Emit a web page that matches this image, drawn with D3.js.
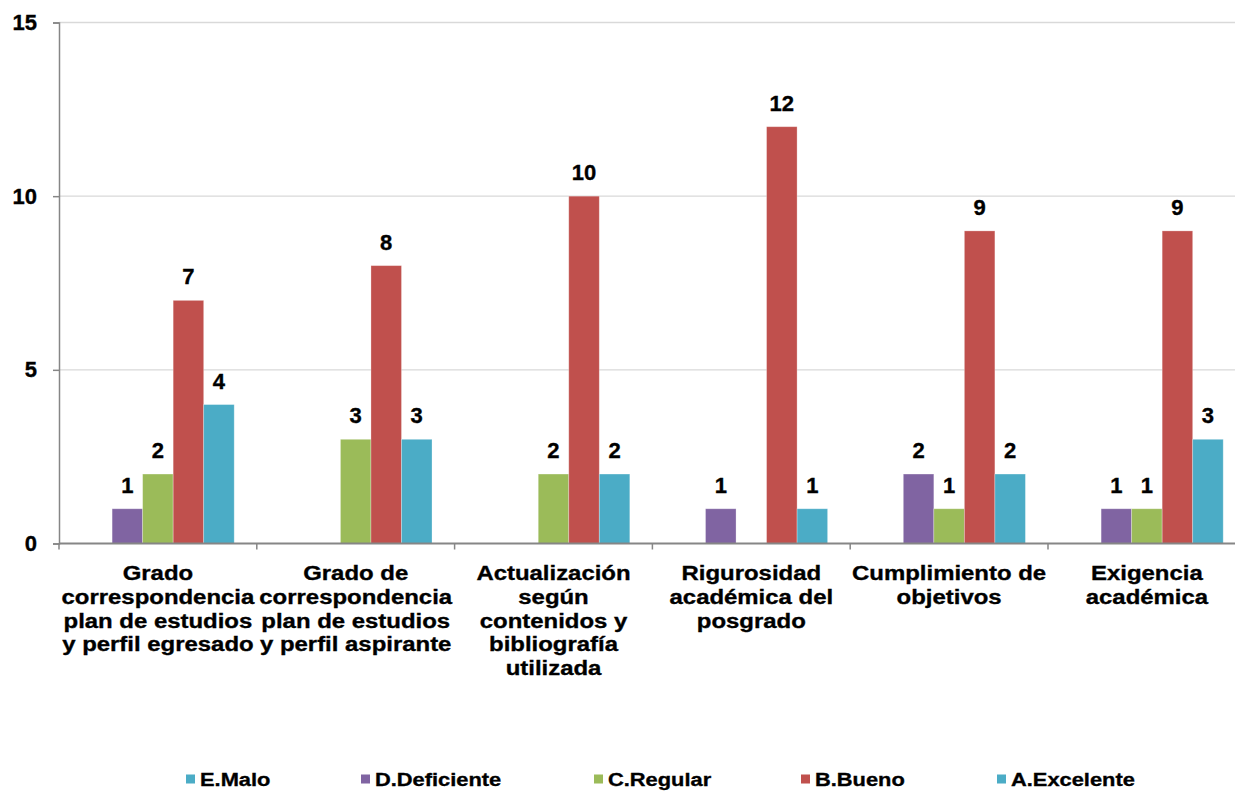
<!DOCTYPE html>
<html>
<head>
<meta charset="utf-8">
<script src="https://cdn.jsdelivr.net/npm/d3@7"></script>
<style>
  body { margin: 0; background: #fff; }
  text { font-family: "Liberation Sans", Arial, sans-serif; font-weight: bold; stroke: #000; stroke-width: 0.35; }
</style>
</head>
<body>
<script>

// data
var categories = [
    ["Grado", "correspondencia", "plan de estudios", "y perfil egresado"],
    ["Grado de", "correspondencia", "plan de estudios", "y perfil aspirante"],
    ["Actualización", "según", "contenidos y", "bibliografía", "utilizada"],
    ["Rigurosidad", "académica del", "posgrado"],
    ["Cumplimiento de", "objetivos"],
    ["Exigencia", "académica"]
];
var seriesNames = ["E.Malo", "D.Deficiente", "C.Regular", "B.Bueno", "A.Excelente"];
var seriesColors = ["#4BACC6", "#8064A2", "#9BBB59", "#C0504D", "#4BACC6"];
var malo       = [0, 0, 0, 0, 0, 0];
var deficiente = [1, 0, 0, 1, 2, 1];
var regular    = [2, 3, 2, 0, 1, 1];
var bueno      = [7, 8, 10, 12, 9, 9];
var excelente  = [4, 3, 2, 1, 2, 3];
var yTicks = [0, 5, 10, 15];

var values = [malo, deficiente, regular, bueno, excelente];

var svg = d3.select('body').append('svg')
    .attr('width', 1235)
    .attr('height', 791);

var plotLeft = 59, plotTop = 22.5, plotBottom = 543.5;
var groupW = 197.8;

var x0 = d3.scaleBand()
    .domain(d3.range(categories.length))
    .range([plotLeft, plotLeft + groupW * categories.length])
    .paddingInner(0)
    .paddingOuter(0);

var x1 = d3.scaleBand()
    .domain(d3.range(seriesNames.length))
    .range([0, groupW])
    .paddingInner(0)
    .paddingOuter(0.74);

var y = d3.scaleLinear()
    .domain([0, 15])
    .range([plotBottom, plotTop]);

// gridlines
svg.append('g').selectAll('line')
    .data(yTicks.filter(d => d > 0))
    .enter().append('line')
    .attr('x1', plotLeft).attr('x2', 1235)
    .attr('y1', d => y(d)).attr('y2', d => y(d))
    .attr('stroke', '#d9d9d9')
    .attr('stroke-width', 1.3);

// bars
var groups = svg.append('g').selectAll('g')
    .data(categories)
    .enter().append('g')
    .attr('transform', (d, i) => 'translate(' + x0(i) + ',0)');

groups.selectAll('rect')
    .data((d, i) => values.map((s, k) => ({ k: k, v: s[i] })))
    .enter().append('rect')
    .attr('x', d => x1(d.k))
    .attr('width', x1.bandwidth())
    .attr('y', d => y(d.v))
    .attr('height', d => plotBottom - y(d.v))
    .attr('fill', d => seriesColors[d.k])
    .attr('stroke', 'rgba(255,255,255,0.35)')
    .attr('stroke-width', 0.8);

groups.selectAll('text.lbl')
    .data((d, i) => values.map((s, k) => ({ k: k, v: s[i] })).filter(d => d.v > 0))
    .enter().append('text')
    .attr('class', 'lbl')
    .attr('x', d => x1(d.k) + x1.bandwidth() / 2)
    .attr('y', d => y(d.v) - 16)
    .attr('text-anchor', 'middle')
    .attr('font-size', 22)
    .text(d => d.v);

// y axis
var yAxis = svg.append('g')
    .attr('transform', 'translate(' + plotLeft + ',0)')
    .call(d3.axisLeft(y).tickValues(yTicks).tickSize(6).tickPadding(16));
yAxis.selectAll('path, line').attr('stroke', '#868686').attr('stroke-width', 1.5);
yAxis.selectAll('text')
    .attr('font-size', 22)
    .attr('font-family', '"Liberation Sans", Arial, sans-serif')
    .attr('font-weight', 'bold')
    .attr('fill', '#000');

// x axis
var xAxisG = svg.append('g');
xAxisG.append('line')
    .attr('x1', plotLeft).attr('x2', 1235)
    .attr('y1', plotBottom).attr('y2', plotBottom)
    .attr('stroke', '#868686').attr('stroke-width', 2);
xAxisG.selectAll('line.tick')
    .data(d3.range(categories.length + 1))
    .enter().append('line')
    .attr('class', 'tick')
    .attr('x1', d => plotLeft + d * groupW).attr('x2', d => plotLeft + d * groupW)
    .attr('y1', plotBottom).attr('y2', plotBottom + 6)
    .attr('stroke', '#868686').attr('stroke-width', 1.5);

// category labels, a bit wider than Liberation Sans Bold
var catLabels = svg.append('g').selectAll('text')
    .data(categories)
    .enter().append('text')
    .attr('transform', (d, i) => 'translate(' + (x0(i) + groupW / 2) + ',580) scale(1.14,1)')
    .attr('text-anchor', 'middle')
    .attr('font-size', 21);
catLabels.selectAll('tspan')
    .data(d => d)
    .enter().append('tspan')
    .attr('x', 0)
    .attr('dy', (d, i) => i === 0 ? 0 : 23.8)
    .text(d => d);

// legend
var legendX = [186, 361, 594, 801, 997];
var legend = svg.append('g').selectAll('g')
    .data(seriesNames)
    .enter().append('g')
    .attr('transform', (d, i) => 'translate(' + legendX[i] + ',779)');
legend.append('rect')
    .attr('x', 0).attr('y', -4.5)
    .attr('width', 9).attr('height', 9)
    .attr('fill', (d, i) => seriesColors[i]);
legend.append('text')
    .attr('transform', 'translate(14,7) scale(1.15,1)')
    .attr('font-size', 19)
    .text(d => d);

</script>
</body>
</html>
